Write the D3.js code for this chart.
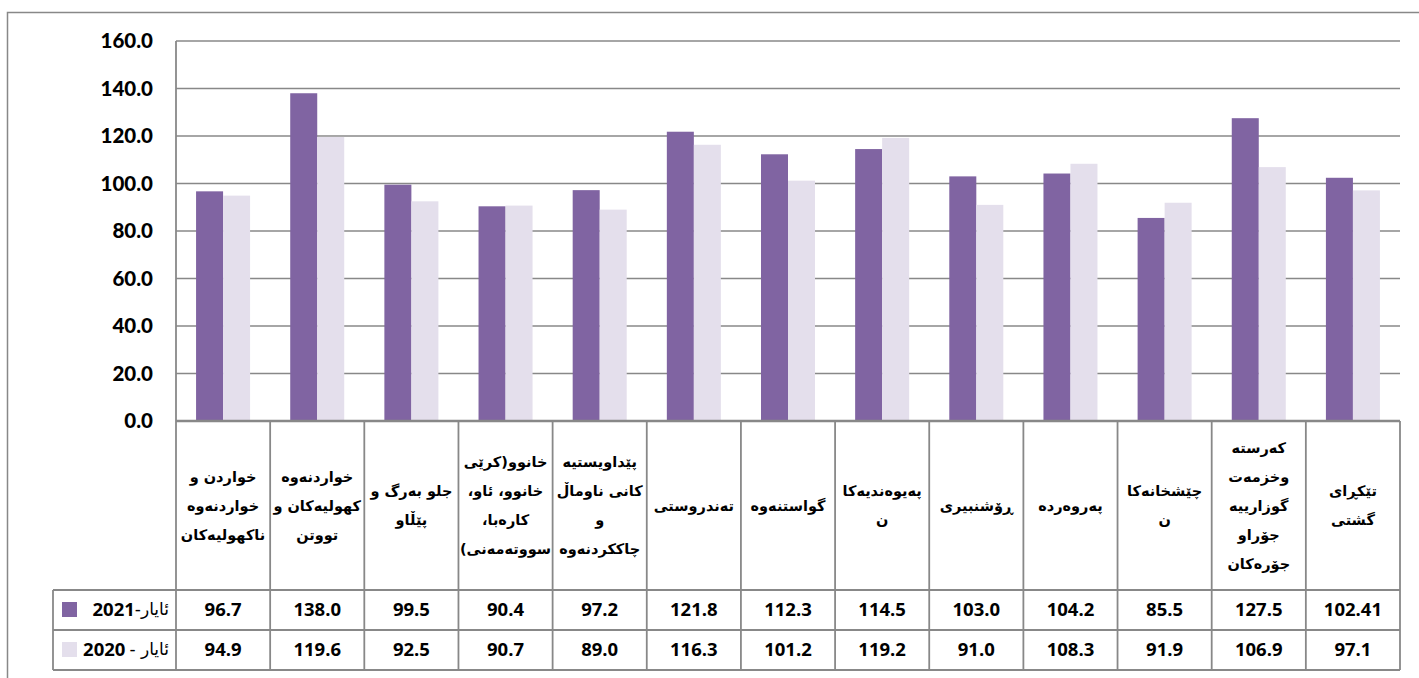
<!DOCTYPE html>
<html><head><meta charset="utf-8">
<script src="https://cdn.jsdelivr.net/npm/d3@7"></script>
<style>
html,body{margin:0;padding:0;background:#fff;}
svg{display:block;}
</style></head>
<body>
<svg id="chart" width="1419" height="678"></svg>
<script>
const categories = [
  ["خواردن و","خواردنەوە","ناکهولیەکان"],
  ["خواردنەوە","کهولیەکان و","تووتن"],
  ["جلو بەرگ و","پێڵاو"],
  ["خانوو(کرێی","خانوو، ئاو،","کارەبا،","سووتەمەنی)"],
  ["پێداویستیە","کانی ناوماڵ","و","چاککردنەوە"],
  ["تەندروستی"],
  ["گواستنەوە"],
  ["پەیوەندیەکا","ن"],
  ["ڕۆشنبیری"],
  ["پەروەردە"],
  ["چێشخانەکا","ن"],
  ["کەرستە","وخزمەت","گوزارییە","جۆراو","جۆرەکان"],
  ["تێکڕای","گشتی"]
];
const seriesMonth = ["ئایار-", "ئایار -"];
const seriesYear = ["2021", "2020"];
const values2021 = [96.7, 138.0, 99.5, 90.4, 97.2, 121.8, 112.3, 114.5, 103.0, 104.2, 85.5, 127.5, 102.41];
const values2020 = [94.9, 119.6, 92.5, 90.7, 89.0, 116.3, 101.2, 119.2, 91.0, 108.3, 91.9, 106.9, 97.1];
const labels2021 = ["96.7","138.0","99.5","90.4","97.2","121.8","112.3","114.5","103.0","104.2","85.5","127.5","102.41"];
const labels2020 = ["94.9","119.6","92.5","90.7","89.0","116.3","101.2","119.2","91.0","108.3","91.9","106.9","97.1"];
const yTicks = [0, 20, 40, 60, 80, 100, 120, 140, 160];
const colors = ["#8064A2", "#E4DFEC"];

const svg = d3.select("#chart");
const L = 176, R = 1400, T = 41, B = 421;
const rowTops = [B, 590, 630, 670];
const legendLeft = 53;
const gridColor = "#888888";

svg.append("path").attr("d", `M7.5,678 L7.5,12.5 L1419,12.5`)
  .attr("fill","none").attr("stroke", gridColor).attr("stroke-width",1.5);

const y = d3.scaleLinear().domain([0,160]).range([B,T]);
const idx = d3.range(categories.length);
const x0 = d3.scaleBand().domain(idx).range([L,R]).padding(0);
const x1 = d3.scaleBand().domain([0,1]).range([0, x0.bandwidth()]).paddingInner(0).paddingOuter(0.743);

svg.append("g").selectAll("line").data(yTicks.filter(d=>d>0)).join("line")
  .attr("x1", L).attr("x2", R).attr("y1", d=>y(d)).attr("y2", d=>y(d))
  .attr("stroke", gridColor).attr("stroke-width",1.5);

const yAxis = d3.axisLeft(y).tickValues(yTicks).tickFormat(d3.format(".1f")).tickSize(0).tickPadding(23);
const ga = svg.append("g").attr("transform",`translate(${L},0)`).call(yAxis);
ga.select(".domain").remove();
ga.selectAll("text").attr("font-family","Lato, 'Liberation Sans', sans-serif")
  .attr("font-weight","900").attr("font-size","20.5px").attr("fill","#000");

const series = [values2021, values2020];
const gb = svg.append("g");
series.forEach((vals, s) => {
  gb.selectAll(null).data(vals).join("rect")
    .attr("x", (d,i)=> x0(i) + x1(s))
    .attr("width", x1.bandwidth())
    .attr("y", d=>y(d))
    .attr("height", d=> y(0)-y(d))
    .attr("fill", colors[s]);
});

const gt = svg.append("g").attr("stroke", gridColor).attr("stroke-width",1.8).attr("fill","none");
gt.append("line").attr("x1",L).attr("x2",L).attr("y1",T).attr("y2",rowTops[3]);
gt.append("line").attr("x1",L).attr("x2",R).attr("y1",B).attr("y2",B).attr("stroke-width",2.5);
[1,2,3].forEach(k=>{
  gt.append("line").attr("x1",legendLeft).attr("x2",R).attr("y1",rowTops[k]).attr("y2",rowTops[k]);
});
gt.append("line").attr("x1",legendLeft).attr("x2",legendLeft).attr("y1",rowTops[1]).attr("y2",rowTops[3]);
idx.forEach(i=>{
  const xe = x0(i)+x0.bandwidth();
  gt.append("line").attr("x1",xe).attr("x2",xe).attr("y1",B).attr("y2",rowTops[3]);
});

const lineH = 29;
const gc = svg.append("g");
categories.forEach((lines,i)=>{
  const cx = x0(i)+x0.bandwidth()/2;
  const cy = (rowTops[0]+rowTops[1])/2;
  const startY = cy - (lines.length-1)*lineH/2;
  const t = gc.append("text").attr("text-anchor","middle").attr("direction","rtl")
    .attr("font-family","'DejaVu Sans', sans-serif").attr("font-weight","bold")
    .attr("font-size","14.5px").attr("fill","#000");
  lines.forEach((ln,k)=>{
    t.append("tspan").attr("x",cx).attr("y",startY + k*lineH).attr("dy","0.35em").text(ln);
  });
});

const valLabels = [labels2021, labels2020];
valLabels.forEach((labs,s)=>{
  const cy = (rowTops[s+1]+rowTops[s+2])/2;
  svg.append("g").selectAll("text").data(labs).join("text")
    .attr("x",(d,i)=>x0(i)+x0.bandwidth()/2).attr("y",cy).attr("dy","0.35em")
    .attr("text-anchor","middle").attr("font-family","'Open Sans', sans-serif")
    .attr("font-weight","bold").attr("font-size","18.5px").attr("fill","#000").text(d=>d);
  svg.append("rect").attr("x",62).attr("y",cy-8).attr("width",15).attr("height",15).attr("fill",colors[s]);
  const m = svg.append("text").attr("x",169).attr("y",cy-1).attr("dy","0.35em")
    .attr("direction","rtl").attr("text-anchor","start")
    .attr("font-family","'DejaVu Sans', sans-serif").attr("font-size","17px").attr("fill","#000")
    .text(seriesMonth[s]);
  const w = m.node().getComputedTextLength();
  svg.append("text").attr("x",169 - w - (s===1?4:0)).attr("y",cy).attr("dy","0.35em").attr("text-anchor","end")
    .attr("font-family","'Open Sans', sans-serif").attr("font-weight","bold")
    .attr("font-size","18.5px").attr("fill","#000")
    .text(seriesYear[s]);
});
</script>
</body></html>
